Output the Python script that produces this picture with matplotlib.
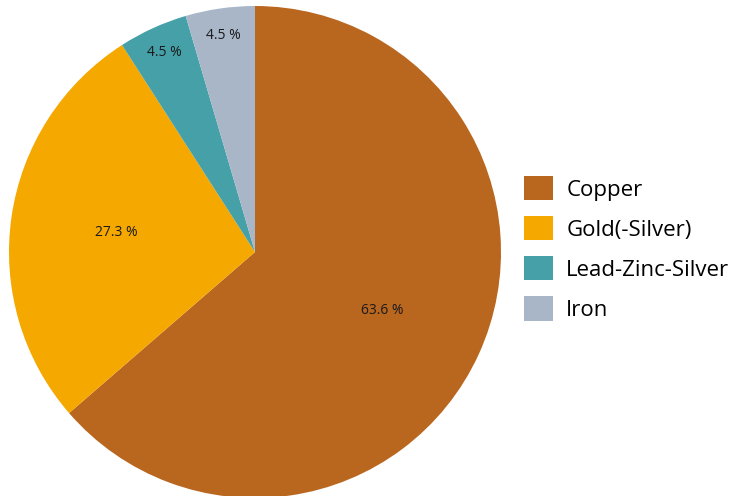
import matplotlib.pyplot as plt
import numpy as np

plt.rcParams["font.family"] = ["Open Sans", "DejaVu Sans"]

# deposit counts by commodity type
commodities = ["Copper", "Gold(-Silver)", "Lead-Zinc-Silver", "Iron"]
counts = [14, 6, 1, 1]
colors = ["#B9661F", "#F5A800", "#45A0A8", "#A9B6C8"]

W, H = 732, 496
fig = plt.figure(figsize=(W / 100, H / 100), dpi=100)

cx, cy, r = 255, 252, 246
ax = fig.add_axes([(cx - r) / W, (H - cy - r) / H, 2 * r / W, 2 * r / H])

wedges, _, autotexts = ax.pie(
    counts,
    colors=colors,
    startangle=90,
    counterclock=False,
    autopct=lambda p: f"{p:.1f} %",
    pctdistance=0.57,
    textprops={"fontsize": 10, "color": "#1a1a1a"},
    wedgeprops={"linewidth": 0},
)

# small slices get their labels pushed out toward the rim
for w, t in zip(wedges, autotexts):
    span = abs(w.theta2 - w.theta1)
    if span < 30:
        ang = np.deg2rad((w.theta1 + w.theta2) / 2)
        t.set_position((0.89 * np.cos(ang), 0.89 * np.sin(ang)))

ax.set_xlim(-1, 1)
ax.set_ylim(-1, 1)
ax.set_aspect("auto")
ax.axis("off")

fig.legend(
    wedges,
    commodities,
    loc="upper left",
    bbox_to_anchor=(524 / W, 1 - 176 / H),
    frameon=False,
    fontsize=16,
    handlelength=1.3,
    handleheight=1.3,
    handletextpad=0.6,
    labelspacing=0.7,
    borderpad=0,
    borderaxespad=0,
)

fig.savefig("out.png", dpi=100)
